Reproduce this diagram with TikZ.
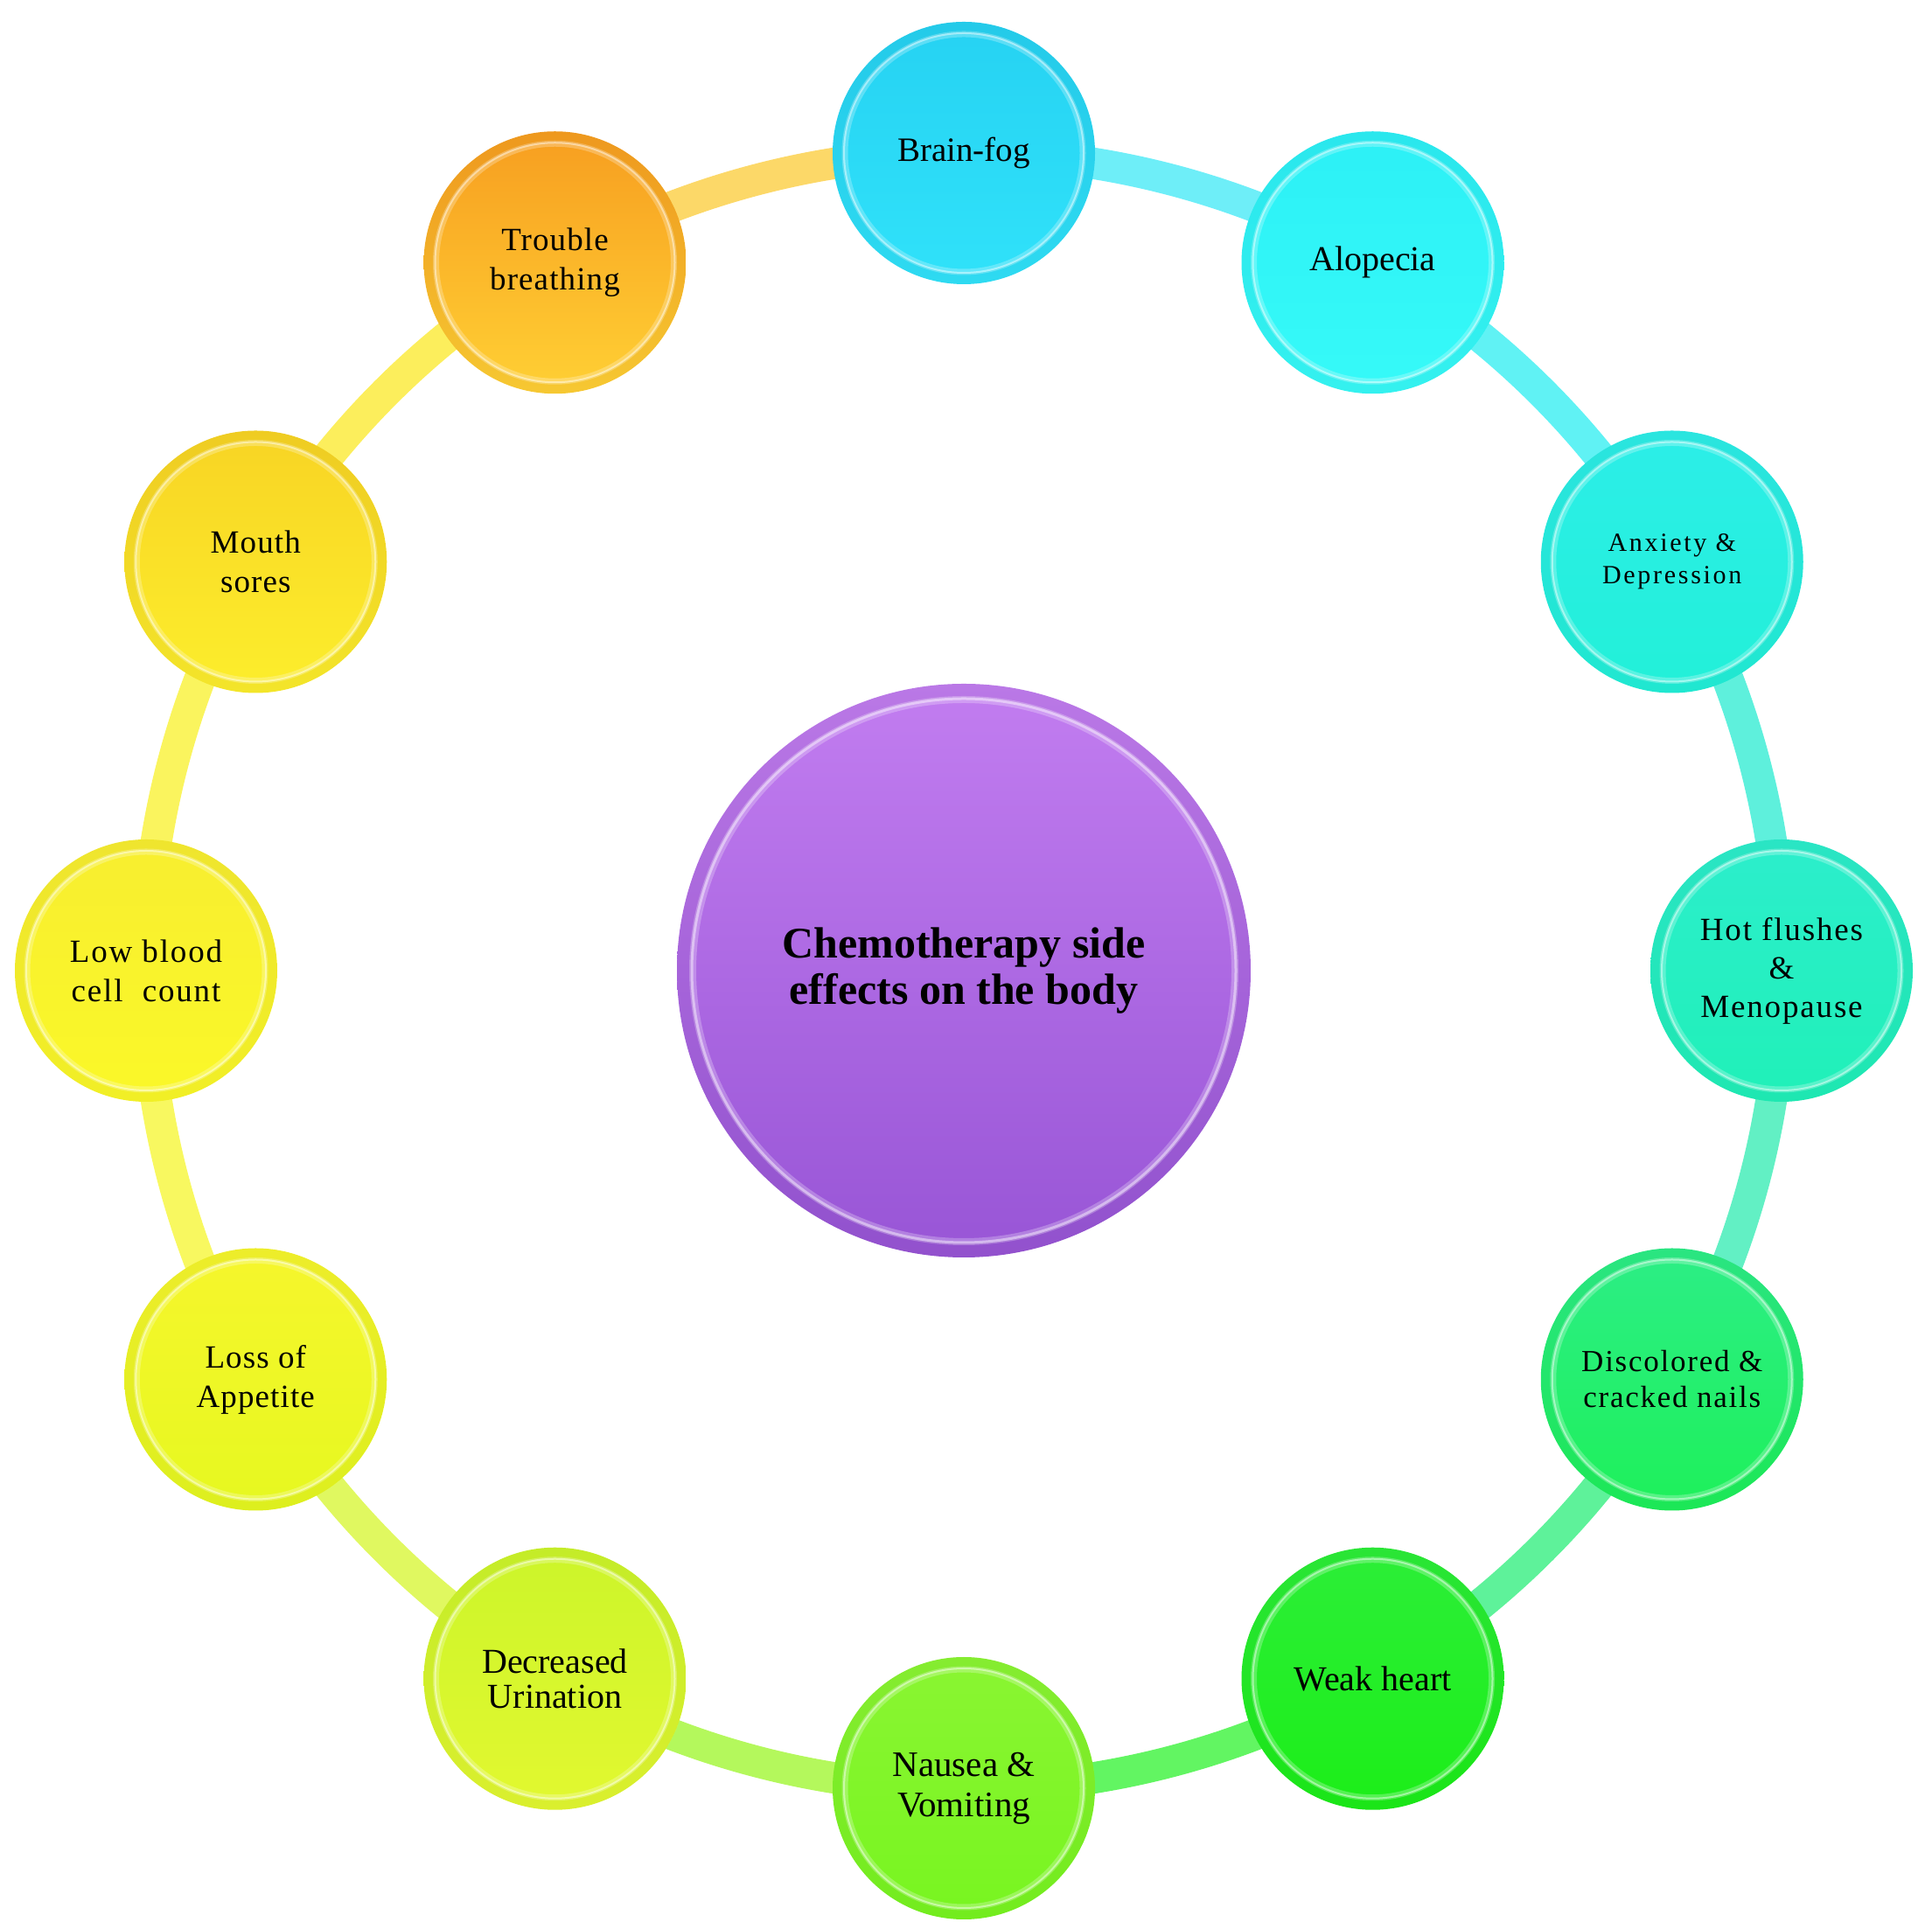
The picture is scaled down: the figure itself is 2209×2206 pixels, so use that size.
\documentclass[tikz,border=0pt]{standalone}
\usepackage{fontspec}
\setmainfont{Liberation Serif}
\newfontfamily\lsA[LetterSpace=3]{Liberation Serif}
\newfontfamily\lsB[LetterSpace=5]{Liberation Serif}
\newfontfamily\lsC[LetterSpace=9]{Liberation Serif}
\usetikzlibrary{backgrounds}
\definecolor{bfT}{HTML}{26D2F2}\definecolor{bfB}{HTML}{30E2FA}
\definecolor{alT}{HTML}{2CF0F6}\definecolor{alB}{HTML}{36FAF8}
\definecolor{adT}{HTML}{2CEEE8}\definecolor{adB}{HTML}{22F0D8}
\definecolor{hmT}{HTML}{2CEECC}\definecolor{hmB}{HTML}{20F0B8}
\definecolor{dnT}{HTML}{2CEE86}\definecolor{dnB}{HTML}{1EF05A}
\definecolor{whT}{HTML}{2CEE38}\definecolor{whB}{HTML}{1CEE18}
\definecolor{nvT}{HTML}{8AF532}\definecolor{nvB}{HTML}{78F520}
\definecolor{duT}{HTML}{CCF52A}\definecolor{duB}{HTML}{E2F830}
\definecolor{laT}{HTML}{F6F62C}\definecolor{laB}{HTML}{E6F820}
\definecolor{lbT}{HTML}{F8EE30}\definecolor{lbB}{HTML}{FAF828}
\definecolor{msT}{HTML}{F8D424}\definecolor{msB}{HTML}{FCEE2C}
\definecolor{tbT}{HTML}{F79E20}\definecolor{tbB}{HTML}{FFD034}
\definecolor{ceT}{HTML}{C27DF0}\definecolor{ceB}{HTML}{9855D6}
\definecolor{r1}{HTML}{6EEEF8}\definecolor{r2}{HTML}{60F2F4}
\definecolor{r3}{HTML}{5EF0DC}\definecolor{r4}{HTML}{62F0C4}
\definecolor{r5}{HTML}{5EF29A}\definecolor{r6}{HTML}{62F562}
\definecolor{r7}{HTML}{B4F85C}\definecolor{r8}{HTML}{E0F860}
\definecolor{r9}{HTML}{F8F860}\definecolor{r10}{HTML}{FAF45E}
\definecolor{r11}{HTML}{FCEE5C}\definecolor{r12}{HTML}{FCD868}
\tikzset{
  bub/.style 2 args={circle, minimum size=300pt, inner sep=0pt, align=center,
    text=black, top color=#1, bottom color=#2, font=\fontsize{40pt}{46pt}\selectfont,
    path picture={
      \draw[black, opacity=0.035, line width=12pt] (path picture bounding box.center) circle[radius=144pt];
      \draw[white, opacity=0.25, line width=7pt] (path picture bounding box.center) circle[radius=136pt];
      \draw[white, opacity=0.45, line width=2pt] (path picture bounding box.center) circle[radius=137pt];
    }},
  hub/.style={circle, minimum size=656pt, inner sep=0pt, align=center,
    text=black, top color=ceT, bottom color=ceB,
    font=\fontsize{50pt}{53pt}\selectfont\bfseries,
    path picture={
      \draw[black, opacity=0.04, line width=16pt] (path picture bounding box.center) circle[radius=320pt];
      \draw[white, opacity=0.25, line width=8pt] (path picture bounding box.center) circle[radius=310pt];
      \draw[white, opacity=0.45, line width=3pt] (path picture bounding box.center) circle[radius=311pt];
    }},
  ringseg/.style={line width=36pt},
}
\begin{document}
\begin{tikzpicture}[x=1pt,y=1pt]
\useasboundingbox (0,0) rectangle (2209,2206);
\coordinate (O) at (1102,1096);
\node[hub] (ce) at (O) {Chemotherapy side\\effects on the body};
\node[bub={bfT}{bfB}, font=\fontsize{39pt}{45pt}\selectfont] (bf) at ([shift={(90:935)}]O) {Brain-fog};
\node[bub={alT}{alB}] (al) at ([shift={(60:935)}]O) {Alopecia};
\node[bub={adT}{adB}, font=\fontsize{30pt}{37pt}\lsC] (ad) at ([shift={(30:935)}]O) {Anxiety \&\\Depression};
\node[bub={hmT}{hmB}, font=\fontsize{37pt}{44pt}\lsB] (hm) at ([shift={(0:935)}]O) {Hot flushes\\\&\\Menopause};
\node[bub={dnT}{dnB}, font=\fontsize{35pt}{41pt}\lsB] (dn) at ([shift={(-30:935)}]O) {Discolored \&\\cracked nails};
\node[bub={whT}{whB}] (wh) at ([shift={(-60:935)}]O) {Weak heart};
\node[bub={nvT}{nvB}, font=\fontsize{41pt}{46pt}\selectfont] (nv) at ([shift={(-90:935)}]O) {Nausea \&\\Vomiting};
\node[bub={duT}{duB}, font=\fontsize{40pt}{40pt}\selectfont] (du) at ([shift={(-120:935)}]O) {Decreased\\Urination};
\node[bub={laT}{laB}, font=\fontsize{37pt}{45pt}\lsA] (la) at ([shift={(-150:935)}]O) {Loss of\\Appetite};
\node[bub={lbT}{lbB}, font=\fontsize{37pt}{45pt}\lsB] (lb) at ([shift={(180:935)}]O) {Low blood\\cell~ count};
\node[bub={msT}{msB}, font=\fontsize{37pt}{45pt}\lsA] (ms) at ([shift={(150:935)}]O) {Mouth\\sores};
\node[bub={tbT}{tbB}, font=\fontsize{37pt}{45pt}\lsA] (tb) at ([shift={(120:935)}]O) {Trouble\\breathing};
\begin{scope}[on background layer]
\draw[ringseg, r1] (bf.center) arc[start angle=90, end angle=60, radius=935];
\draw[ringseg, r2] (al.center) arc[start angle=60, end angle=30, radius=935];
\draw[ringseg, r3] (ad.center) arc[start angle=30, end angle=0, radius=935];
\draw[ringseg, r4] (hm.center) arc[start angle=0, end angle=-30, radius=935];
\draw[ringseg, r5] (dn.center) arc[start angle=-30, end angle=-60, radius=935];
\draw[ringseg, r6] (wh.center) arc[start angle=-60, end angle=-90, radius=935];
\draw[ringseg, r7] (nv.center) arc[start angle=-90, end angle=-120, radius=935];
\draw[ringseg, r8] (du.center) arc[start angle=-120, end angle=-150, radius=935];
\draw[ringseg, r9] (la.center) arc[start angle=-150, end angle=-180, radius=935];
\draw[ringseg, r10] (lb.center) arc[start angle=180, end angle=150, radius=935];
\draw[ringseg, r11] (ms.center) arc[start angle=150, end angle=120, radius=935];
\draw[ringseg, r12] (tb.center) arc[start angle=120, end angle=90, radius=935];
\end{scope}
\end{tikzpicture}
\end{document}
